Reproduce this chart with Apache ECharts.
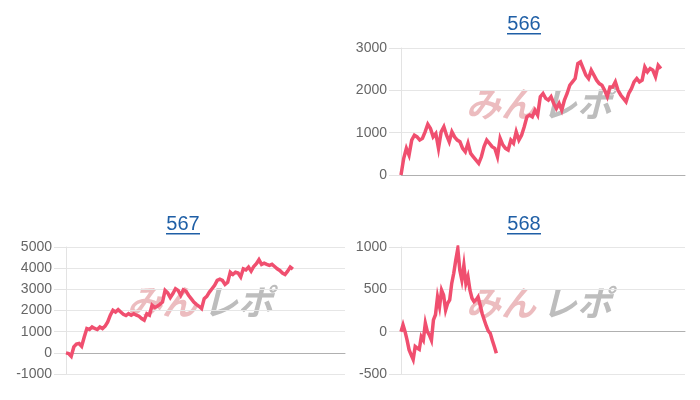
<!DOCTYPE html>
<html>
<head>
<meta charset="utf-8">
<script src="https://cdn.jsdelivr.net/npm/echarts@6/dist/echarts.min.js"></script>
<style>
  html, body { margin: 0; padding: 0; background: #fff; }
  #main { width: 700px; height: 400px; }
</style>
</head>
<body>
<div id="main"></div>
<script>
// machine numbers (chart titles)
var titles566 = '566';
var titles567 = '567';
var titles568 = '568';

// cumulative difference per game
var data566 = [0, 390, 630, 470, 825, 940, 900, 825, 865, 1020,
  1200, 1100, 900, 980, 630, 1020, 1140, 940, 785, 1020,
  900, 825, 785, 630, 550, 750, 510, 430, 350, 275,
  430, 670, 825, 750, 670, 630, 430, 865, 710, 630,
  590, 825, 750, 1020, 825, 940, 1140, 1375, 1415, 1375,
  1530, 1415, 1850, 1925, 1810, 1770, 1850, 1690, 1570, 1690,
  1530, 1770, 1925, 2120, 2200, 2280, 2630, 2670, 2515, 2360,
  2280, 2475, 2360, 2240, 2160, 2120, 2000, 1850, 2080, 2080,
  2200, 2000, 1890, 1810, 1730, 1925, 2040, 2200, 2280, 2200,
  2240, 2550, 2435, 2515, 2475, 2320, 2590, 2515];

var data567 = [0, -30, -160, 280, 410, 440, 310, 750, 1150, 1100,
  1220, 1150, 1100, 1220, 1150, 1260, 1460, 1780, 2010, 1930,
  2040, 1930, 1820, 1760, 1850, 1780, 1850, 1780, 1730, 1620,
  1540, 1850, 1780, 2250, 2140, 2200, 2290, 2400, 2950, 2830,
  2610, 2800, 3030, 2950, 2720, 2980, 2920, 2720, 2560, 2400,
  2290, 2200, 2090, 2560, 2670, 2870, 3030, 3190, 3420, 3480,
  3420, 3230, 3330, 3810, 3700, 3810, 3770, 3580, 3970, 3920,
  4050, 3860, 4080, 4210, 4400, 4180, 4240, 4180, 4130, 4180,
  4080, 3970, 3890, 3770, 3700, 3860, 4050, 3950];

var data568 = [0, 80, 0, -100, -215, -275, -330, -175, -195, -210,
  -60, -100, 100, 0, -40, -100, 140, 200, 410, 295,
  490, 430, 255, 335, 375, 570, 690, 845, 980, 725,
  610, 785, 570, 650, 490, 395, 355, 375, 410, 315,
  215, 140, 70, 10, -20, -100, -175, -255];

// y axis ranges
var yRange566 = [0, 3000, 1000];
var yRange567 = [-1000, 5000, 1000];
var yRange568 = [-500, 1000, 500];

// length of the x axis (games) for each chart
var xLen566 = 106;
var xLen567 = 107;
var xLen568 = 140;

var lineColor = '#f04f6f';
var linkColor = '#1f5fa6';
var font = 'Liberation Sans, Arial, sans-serif';

var myChart = echarts.init(document.getElementById('main'));

function toPoints(arr) {
  return arr.map(function (v, i) { return [i, v]; });
}

function makeX(idx, len) {
  return {
    type: 'value', gridIndex: idx, min: 0, max: len,
    axisLabel: { show: false }, axisTick: { show: false },
    splitLine: { show: false },
    axisLine: { show: true, onZero: true, lineStyle: { color: '#b0b0b0', width: 1 } }
  };
}

function makeY(idx, r) {
  return {
    type: 'value', gridIndex: idx, min: r[0], max: r[1], interval: r[2],
    axisLine: { show: true, lineStyle: { color: '#e3e3e3' } },
    axisTick: { show: true, length: 12, lineStyle: { color: '#e3e3e3' } },
    axisLabel: { color: '#666', fontSize: 14, fontFamily: font, margin: 14,
      formatter: function (v) { return String(v); } },
    splitLine: { show: true, lineStyle: { color: '#e6e6e6' } }
  };
}

function makeSeries(idx, arr) {
  return {
    type: 'line', xAxisIndex: idx, yAxisIndex: idx,
    data: toPoints(arr), showSymbol: false, z: 3,
    lineStyle: { color: lineColor, width: 3.5, join: 'miter' },
    itemStyle: { color: lineColor }
  };
}

function makeTitle(text, cx, y) {
  return {
    text: text, link: '#', left: cx, top: y, textAlign: 'center', padding: 0,
    textStyle: { color: linkColor, fontSize: 20, fontWeight: 'normal', fontFamily: font }
  };
}

// logo in the background of each plot
function logo(cx, cy) {
  var st = { fontSize: 35, fontWeight: 'bold', fontStyle: 'italic', fontFamily: 'Noto Sans CJK JP', verticalAlign: 'middle' };
  return [
    { type: 'text', x: cx - 4, y: cy, z: 0, silent: true,
      style: Object.assign({ text: 'みん', fill: '#ecbcbf', align: 'right' }, st) },
    { type: 'text', x: cx + 2, y: cy, z: 0, silent: true,
      style: Object.assign({ text: 'レポ', fill: '#bdbdbd', align: 'left' }, st) }
  ];
}

function underline(cx, y) {
  return { type: 'rect', shape: { x: cx - 17, y: y, width: 34, height: 1.5 }, style: { fill: linkColor }, silent: true };
}

var option = {
  animation: false,
  title: [
    makeTitle(titles566, 524, 14),
    makeTitle(titles567, 183, 214),
    makeTitle(titles568, 524, 214)
  ],
  grid: [
    { left: 401, top: 48, width: 284, height: 127 },
    { left: 66, top: 247, width: 279, height: 127 },
    { left: 401, top: 247, width: 284, height: 127 }
  ],
  xAxis: [makeX(0, xLen566), makeX(1, xLen567), makeX(2, xLen568)],
  yAxis: [makeY(0, yRange566), makeY(1, yRange567), makeY(2, yRange568)],
  series: [makeSeries(0, data566), makeSeries(1, data567), makeSeries(2, data568)],
  graphic: [].concat(
    logo(540, 104), logo(201, 302), logo(540, 303),
    [underline(524, 33), underline(183, 233), underline(524, 233)]
  )
};

myChart.setOption(option);
</script>
</body>
</html>
